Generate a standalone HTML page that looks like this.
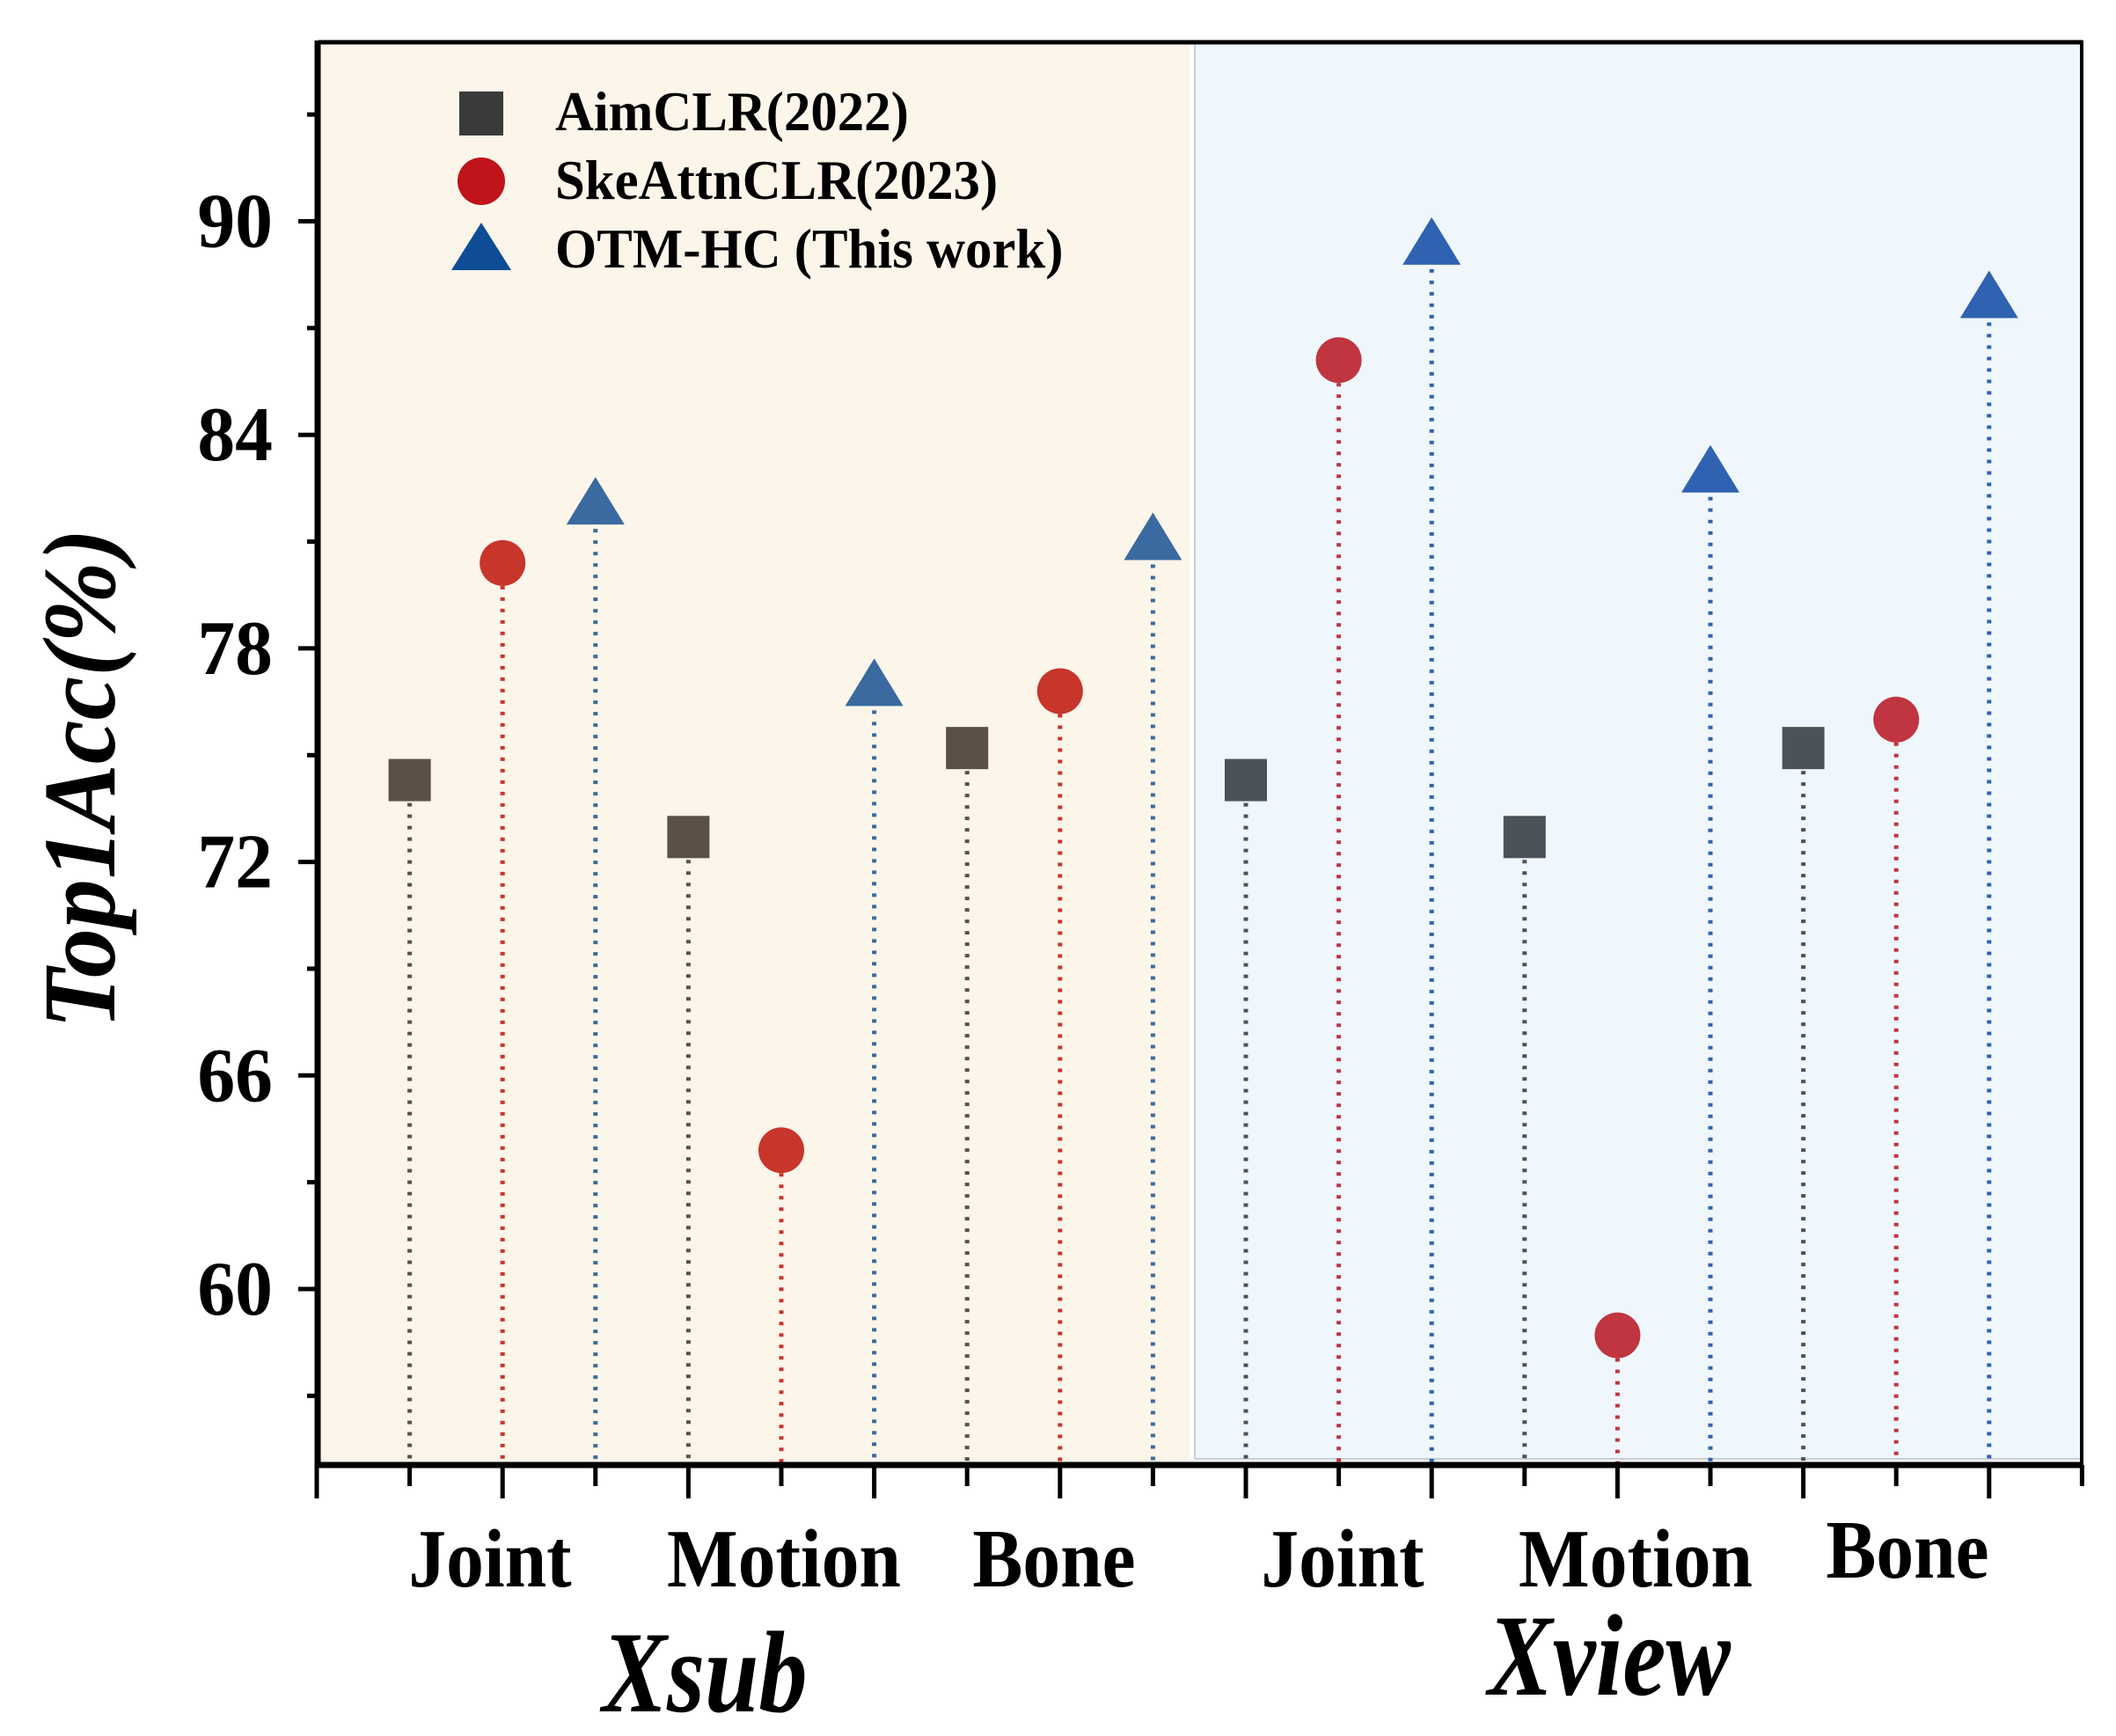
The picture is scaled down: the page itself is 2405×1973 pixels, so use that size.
<!DOCTYPE html>
<html><head><meta charset="utf-8"><style>
html,body{margin:0;padding:0;background:#fff;}
svg{display:block;font-family:"Liberation Serif",serif;font-weight:bold;}
</style></head><body>
<svg id="chart" width="2405" height="1973" viewBox="0 0 2405 1973" xmlns="http://www.w3.org/2000/svg">
<rect x="362" y="48" width="990" height="1615" fill="#fcf5ea"/>
<rect x="1358" y="48" width="1007" height="1610" fill="#eff7fd" stroke="#c8d0d6" stroke-width="2"/>
<g id="stems"></g><g id="marks"></g><g id="axes"></g>
<g>
<rect x="522" y="104" width="50" height="50" fill="#3a3a3a"/>
<text x="631" y="148" font-size="64" transform="translate(631 0) scale(0.95 1) translate(-631 0)">AimCLR(2022)</text>
<circle cx="547" cy="206" r="27" fill="#c0141a"/>
<text x="631" y="226" font-size="64" transform="translate(631 0) scale(0.95 1) translate(-631 0)">SkeAttnCLR(2023)</text>
<polygon points="547,253 513,307 581,307" fill="#0f4c96"/>
<text x="631" y="304" font-size="64" transform="translate(631 0) scale(0.95 1) translate(-631 0)">OTM-HC (This work)</text>
</g>
<text font-size="118" font-style="italic" text-anchor="middle" transform="translate(130 885) rotate(-90) scale(0.95 1)">Top1Acc(%)</text>
<text font-size="120" font-style="italic" text-anchor="middle" transform="translate(801 1945) scale(0.92 1.1)">Xsub</text>
<text font-size="120" font-style="italic" text-anchor="middle" transform="translate(1829 1926) scale(0.92 1.1)">Xview</text>
</svg>
<script>
const categories = ["Joint","Motion","Bone","Joint","Motion","Bone"];
const aimclr = [74.3,72.7,75.2,74.3,72.7,75.2];
const skeattn = [80.4,63.9,76.8,86.1,58.7,76.0];
const otmhc = [82.0,76.9,81.0,89.3,82.9,87.8];
const yTicks = [60,66,72,78,84,90];
const catLabelX = [557,891,1198,1526,1859,2168];
const catLabelY = [1803,1803,1803,1803,1803,1793];

const NS="http://www.w3.org/2000/svg";
const X0=360, STEP=105.6, YBASE=1665;
function xPos(i){return X0+i*STEP;}
function yPos(v){return 1465-(v-60)*40.45;}
function mk(tag,attrs,parent){const e=document.createElementNS(NS,tag);for(const k in attrs)e.setAttribute(k,attrs[k]);parent.appendChild(e);return e;}
const stems=document.getElementById('stems'), marks=document.getElementById('marks'), axes=document.getElementById('axes');
const cols={aim:["#5a5045","#4a525a"],ske:["#c8352a","#c03540"],otm:["#3a6aa0","#2f62b0"]};
for(let g=0;g<6;g++){
  const side=g<3?0:1;
  const series=[["aim",aimclr],["ske",skeattn],["otm",otmhc]];
  series.forEach((s,k)=>{
    const x=xPos(g*3+k+1), y=yPos(s[1][g]), c=cols[s[0]][side];
    const ln=mk('line',{x1:x,y1:y,x2:x,y2:YBASE,stroke:c,'stroke-width':5,'stroke-dasharray':'4 9'},stems);
    
    
    let m;
    if(s[0]==="aim") m=mk('rect',{x:x-24,y:y-24,width:48,height:48,fill:c},marks);
    else if(s[0]==="ske") m=mk('circle',{cx:x,cy:y,r:26,fill:c},marks);
    else m=mk('polygon',{points:`${x},${y-33} ${x-33},${y+21} ${x+33},${y+21}`,fill:c},marks);
    
    
  });
  const t=mk('text',{x:0,y:0,'font-size':90,'text-anchor':'middle',transform:`translate(${catLabelX[g]} ${catLabelY[g]}) scale(0.95 1.05)`},axes);
  t.textContent=categories[g];
  
  
}
let f=mk('line',{x1:362,y1:48,x2:2367,y2:48,stroke:'#000','stroke-width':5},axes);

f=mk('line',{x1:2366,y1:46,x2:2366,y2:1667,stroke:'#000','stroke-width':4},axes);

f=mk('line',{x1:361,y1:46,x2:361,y2:1667,stroke:'#000','stroke-width':7},axes);

f=mk('line',{x1:358,y1:YBASE,x2:2368,y2:YBASE,stroke:'#000','stroke-width':7},axes);

for(let i=0;i<=19;i++){
  const x=xPos(i), major=i%2===0;
  const tk=mk('line',{x1:x,y1:YBASE,x2:x,y2:YBASE+(major?38:24),stroke:'#000','stroke-width':5},axes);
  
  
}
for(let v=57;v<=93;v+=3){
  const y=yPos(v), major=yTicks.includes(v);
  const tk=mk('line',{x1:361,y1:y,x2:361-(major?22:12),y2:y,stroke:'#000','stroke-width':5},axes);
  
  
}
yTicks.forEach(v=>{
  const t=mk('text',{x:0,y:0,'font-size':84,'text-anchor':'end',transform:`translate(310 ${yPos(v)+29}) scale(1.02 1.05)`},axes);
  t.textContent=v;
  
  
});
</script>
</body></html>
